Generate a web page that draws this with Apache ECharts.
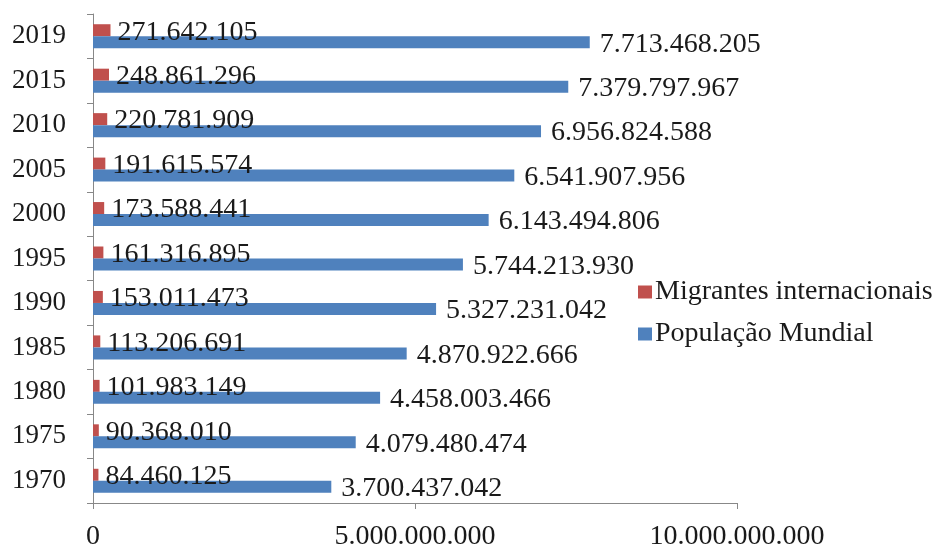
<!DOCTYPE html>
<html><head><meta charset="utf-8">
<script src="https://cdn.jsdelivr.net/npm/echarts@6/dist/echarts.min.js"></script>
<style>html,body{margin:0;padding:0;background:#fff}#c{width:941px;height:551px}</style>
</head><body><div id="c"></div>
<script>
const years = ['1970','1975','1980','1985','1990','1995','2000','2005','2010','2015','2019'];
const migrantes = [84460125, 90368010, 101983149, 113206691, 153011473, 161316895, 173588441, 191615574, 220781909, 248861296, 271642105];
const populacao = [3700437042, 4079480474, 4458003466, 4870922666, 5327231042, 5744213930, 6143494806, 6541907956, 6956824588, 7379797967, 7713468205];
const xTicks = [0, 5000000000, 10000000000];

function fmt(v){ return String(Math.round(v)).replace(/\B(?=(\d{3})+(?!\d))/g, '.'); }
const FONT = '"Liberation Serif", "Times New Roman", serif';
const chart = echarts.init(document.getElementById('c'), null, {renderer:'canvas'});
chart.setOption({
  animation:false,
  textStyle:{fontFamily:FONT},
  grid:{left:93, right:204, top:14, bottom:44, containLabel:false},
  legend:{
    orient:'vertical', left:633, top:273, itemWidth:14, itemHeight:13, itemGap:14,
    icon:'rect',
    textStyle:{fontFamily:FONT, fontSize:28, lineHeight:28, color:'#1a1a1a', padding:[0,0,0,-2]},
    data:['Migrantes internacionais','População Mundial']
  },
  xAxis:{
    type:'value', min:xTicks[0], max:xTicks[2], interval:xTicks[1]-xTicks[0],
    axisLine:{show:true, lineStyle:{color:'#888', width:1}},
    axisTick:{show:true, length:6, lineStyle:{color:'#888'}},
    splitLine:{show:false},
    axisLabel:{fontFamily:FONT, fontSize:28, color:'#1a1a1a', margin:20, formatter:v=>fmt(v), showMaxLabel:true}
  },
  yAxis:{
    type:'category', data:years,
    axisLine:{show:true, lineStyle:{color:'#888', width:1}},
    axisTick:{show:true, length:6, lineStyle:{color:'#888'}},
    axisLabel:{fontFamily:FONT, fontSize:27, color:'#1a1a1a', margin:27}
  },
  series:[
    {name:'Migrantes internacionais', type:'bar', data:migrantes, barWidth:12, barGap:'0%',
     itemStyle:{color:'#C0504D'},
     label:{show:true, position:'right', distance:7, offset:[0,2], fontFamily:FONT, fontSize:28, color:'#1a1a1a', formatter:p=>fmt(p.value)}},
    {name:'População Mundial', type:'bar', data:populacao, barWidth:12, barGap:'0%',
     itemStyle:{color:'#4F81BD'},
     label:{show:true, position:'right', distance:10, offset:[0,2], fontFamily:FONT, fontSize:28, color:'#1a1a1a', formatter:p=>fmt(p.value)}}
  ]
});
</script></body></html>
